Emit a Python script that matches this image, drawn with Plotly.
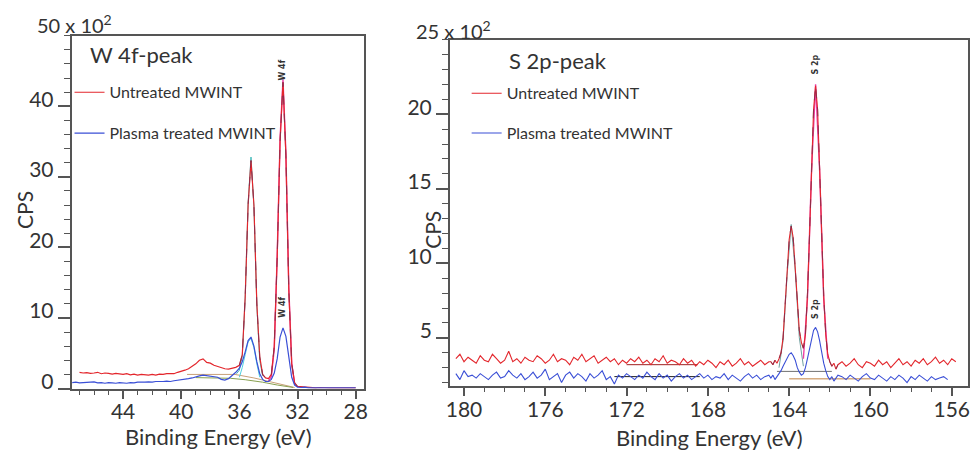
import plotly.graph_objects as go

W, H = 972, 453
FONT = "Lato"
TXT = "#333333"
AX = "#555555"
RED = "#e3262c"
BLUE = "#3a4fd6"

# ---------------- W 4f panel (CPS in units of 10^2) ----------------
w4f_energy = [
    47.5, 47.25, 47.0, 46.75, 46.5, 46.25, 46.0, 45.75, 45.5, 45.25,
    45.0, 44.75, 44.5, 44.25, 44.0, 43.75, 43.5, 43.25, 43.0, 42.75,
    42.5, 42.25, 42.0, 41.75, 41.5, 41.25, 41.0, 40.75, 40.5, 40.25,
    40.0, 39.75, 39.5, 39.25, 39.0, 38.75, 38.5, 38.25, 38.0, 37.75,
    37.5, 37.25, 37.0, 36.75, 36.5, 36.25,
    36.0, 35.8, 35.6, 35.4, 35.2, 35.0, 34.8, 34.6, 34.4, 34.2,
    34.0, 33.8, 33.6, 33.4, 33.2, 33.0, 32.8, 32.6, 32.4, 32.2, 32.0,
    31.75, 31.5, 31.25, 31.0, 30.75, 30.5, 30.25, 30.0, 29.75, 29.5,
    29.25, 29.0, 28.75, 28.5, 28.25, 28.0,
]
w4f_untreated = [
    None, None, 2.3, 2.2, 2.25, 2.15, 2.2, 2.3, 2.1, 2.2,
    2.15, 2.05, 2.15, 2.1, 2.0, 2.1, 1.95, 2.05, 1.9, 2.0,
    1.95, 1.9, 2.0, 1.9, 2.05, 2.0, 2.1, 2.15, 2.1, 2.3,
    2.4, 2.6, 2.8, 3.1, 3.5, 4.0, 4.2, 3.7, 3.6, 3.3,
    3.1, 2.9, 2.8, 2.75, 2.9, 3.0,
    3.3, 4.8, 13.0, 26.0, 32.3, 26.0, 12.0, 4.5, 2.0, 1.5,
    1.4, 2.0, 6.0, 18.5, 35.0, 43.4, 33.0, 14.0, 3.5, 0.8, 0.3,
    0.25, 0.2, 0.15, 0.2, 0.1, 0.15, 0.1, 0.15, 0.1, 0.1,
    0.15, 0.1, 0.1, 0.15, 0.1, 0.1,
]
w4f_plasma = [
    0.85, 0.9, 0.8, 0.85, 0.8, 0.9, 0.95, 0.8, 0.85, 0.75,
    0.85, 0.8, 0.75, 0.85, 0.8, 0.75, 0.85, 0.8, 0.9, 0.85,
    0.9, 0.95, 0.9, 1.0, 0.95, 1.0, 1.05, 1.0, 1.1, 1.15,
    1.2, 1.3, 1.4, 1.5, 1.7, 1.8, 1.9, 1.8, 1.8, 1.7,
    1.6, 1.3, 1.2, 1.4, 1.8, 2.3,
    2.9, 3.8, 5.2, 6.8, 7.3, 6.0, 3.8, 2.1, 1.3, 1.0,
    1.0, 1.3, 2.2, 4.2, 7.3, 8.6, 7.4, 4.3, 1.6, 0.5, 0.2,
    0.15, 0.2, 0.1, 0.15, 0.1, 0.1, 0.15, 0.1, 0.1, 0.1,
    0.15, 0.1, 0.1, 0.1, 0.1, 0.1,
]
# fitted components / backgrounds (W 4f)
w4f_fit1_e = [36.2, 36.0, 35.8, 35.6, 35.4, 35.2, 35.0, 34.8, 34.6, 34.4]
w4f_fit1_y = [2.1, 2.6, 4.6, 12.8, 26.3, 32.8, 25.8, 11.8, 4.0, 1.8]
w4f_fit2_e = [34.0, 33.8, 33.6, 33.4, 33.2, 33.0, 32.8, 32.6, 32.4, 32.2]
w4f_fit2_y = [1.1, 1.7, 5.6, 18.8, 35.4, 43.8, 33.4, 14.3, 3.6, 0.7]
w4f_fit3_e = [36.0, 35.8, 35.6, 35.4, 35.2, 35.0, 34.8, 34.6]
w4f_fit3_y = [1.6, 3.0, 4.8, 6.6, 7.1, 5.8, 3.5, 1.6]
w4f_bgu_e = [39.6, 36.3, 35.0, 34.0, 33.0, 32.2]
w4f_bgu_y = [2.0, 2.0, 1.5, 1.0, 0.5, 0.15]
w4f_bgp_e = [39.0, 36.6, 35.6, 34.4, 33.4, 32.3]
w4f_bgp_y = [1.55, 1.45, 1.25, 0.9, 0.5, 0.15]

# ---------------- S 2p panel (CPS in units of 10^2) ----------------
s2p_energy = [
    180.4, 180.2, 180.0, 179.8, 179.6, 179.4, 179.2, 179.0, 178.8, 178.6,
    178.4, 178.2, 178.0, 177.8, 177.6, 177.4, 177.2, 177.0, 176.8, 176.6,
    176.4, 176.2, 176.0, 175.8, 175.6, 175.4, 175.2, 175.0, 174.8, 174.6,
    174.4, 174.2, 174.0, 173.8, 173.6, 173.4, 173.2, 173.0, 172.8, 172.6,
    172.4, 172.2, 172.0, 171.8, 171.6, 171.4, 171.2, 171.0, 170.8, 170.6,
    170.4, 170.2, 170.0, 169.8, 169.6, 169.4, 169.2, 169.0, 168.8, 168.6,
    168.4, 168.2, 168.0, 167.8, 167.6, 167.4, 167.2, 167.0, 166.8, 166.6,
    166.4, 166.2, 166.0, 165.8, 165.6, 165.4, 165.2, 165.0,
    164.9, 164.8, 164.7, 164.6, 164.5, 164.4, 164.3, 164.2, 164.1, 164.0,
    163.9, 163.8, 163.7, 163.6, 163.5, 163.4, 163.3, 163.2, 163.1, 163.0,
    162.9, 162.8, 162.7, 162.6, 162.5, 162.4, 162.3, 162.2, 162.1, 162.0,
    161.9, 161.8, 161.7, 161.6,
    161.4, 161.2, 161.0, 160.8, 160.6, 160.4, 160.2, 160.0, 159.8, 159.6,
    159.4, 159.2, 159.0, 158.8, 158.6, 158.4, 158.2, 158.0, 157.8, 157.6,
    157.4, 157.2, 157.0, 156.8, 156.6, 156.4, 156.2, 156.0, 155.8,
]
s2p_untreated = [
    3.6, 3.9, 3.4, 3.7, 3.5, 3.3, 3.8, 3.5, 3.4, 3.9,
    3.6, 3.3, 3.5, 4.1, 3.4, 3.6, 3.3, 3.7, 3.5, 3.4,
    3.8, 3.6, 3.3, 3.5, 3.9, 3.4, 3.6, 3.5, 3.2, 3.7,
    3.5, 3.9, 3.4, 3.6, 3.8, 3.3, 3.5, 3.7, 3.4, 3.6,
    3.2, 3.5, 3.3, 3.6, 3.4, 3.7, 3.3, 3.5, 3.2, 3.6,
    3.4, 3.8, 3.3, 3.5, 3.4, 3.2, 3.6, 3.3, 3.5, 3.1,
    3.4, 3.2, 3.5, 3.3, 3.0, 3.4, 3.2, 3.5, 3.1, 3.3,
    3.6, 3.2, 3.4, 3.1, 3.3, 3.5, 3.2, 3.4,
    3.4, 3.2, 3.5, 3.3, 3.6, 4.0, 5.0, 6.9, 9.4, 11.6,
    12.5, 11.7, 9.6, 7.1, 5.5, 4.7, 4.3, 5.2, 7.9, 11.8,
    16.4, 20.3, 21.9, 20.3, 16.3, 11.6, 7.8, 5.2, 3.9, 3.4,
    3.1, 3.3, 2.9, 3.2,
    3.4, 3.1, 3.3, 3.6, 3.2, 3.0, 3.4, 3.3, 3.1, 3.5,
    3.2, 3.4, 3.0, 3.3, 3.6, 3.2, 3.4, 3.1, 3.5, 3.3,
    3.6, 3.2, 3.4, 3.7, 3.3, 3.5, 3.2, 3.6, 3.4,
]
s2p_plasma = [
    2.6, 2.2, 2.8, 2.4, 2.5, 2.3, 2.6, 2.4, 2.2, 2.5,
    2.7, 2.3, 2.4, 2.8, 2.5, 2.3, 2.6, 2.2, 2.4, 2.7,
    2.3, 2.5, 2.9, 2.2, 2.4, 2.6, 2.0, 2.5, 2.7, 2.3,
    2.6, 2.4, 2.1, 2.6, 2.3, 2.5, 2.8, 2.2, 2.4, 1.9,
    2.5, 2.3, 2.6, 2.4, 2.2, 2.5, 2.3, 2.7, 2.4, 2.2,
    2.6, 2.3, 2.5, 2.1, 2.4, 2.6, 2.3, 2.5, 2.2, 2.4,
    2.6, 2.3, 2.5, 2.2, 2.4, 2.3, 2.6, 2.2, 2.5, 2.3,
    2.1, 2.4, 2.6, 2.3, 2.5, 2.2, 2.4, 2.5,
    2.3, 2.5, 2.2, 2.4, 2.6, 2.8, 3.1, 3.4, 3.7, 3.9,
    4.0, 3.8, 3.5, 3.0, 2.7, 2.5, 2.6, 3.0, 3.6, 4.3,
    5.0, 5.5, 5.7, 5.4, 4.8, 4.0, 3.3, 2.8, 2.4, 2.2,
    2.4, 2.1, 2.3, 2.5,
    2.4, 2.2, 2.5, 2.3, 2.1, 2.4, 2.6, 2.3, 2.2, 2.5,
    2.3, 2.1, 2.4, 2.2, 2.5, 2.3, 2.0, 2.4, 2.2, 2.5,
    2.3, 2.1, 2.4, 2.2, 2.3, 2.4, 2.2, None, None,
]
# fitted components / backgrounds (S 2p)
s2p_fit1_e = [164.5, 164.3, 164.1, 163.9, 163.7, 163.5, 163.3]
s2p_fit1_y = [3.0, 4.8, 9.2, 12.6, 9.5, 5.0, 3.1]
s2p_fit2_e = [163.3, 163.1, 162.9, 162.7, 162.5, 162.3, 162.1]
s2p_fit2_y = [3.6, 7.6, 16.2, 22.0, 16.2, 7.6, 3.6]
s2p_bgu_e = [172.0, 168.5]
s2p_bgu_y = [3.2, 3.2]
s2p_bgp_e = [172.6, 168.4]
s2p_bgp_y = [2.4, 2.4]
s2p_bgfit_e = [164.6, 161.9]
s2p_bgfit_y = [2.75, 2.75]
s2p_bgfit2_e = [164.0, 160.0]
s2p_bgfit2_y = [2.25, 2.25]


def fx(px):
    return px / W


def fy(py):
    return 1 - py / H


fig = go.Figure()


def line(x, y, color, xa, ya, width=1.0, dash="solid", name=None, legend=None, group=None, show=False):
    fig.add_trace(go.Scatter(
        x=x, y=y, mode="lines", xaxis=xa, yaxis=ya,
        line=dict(color=color, width=width, dash=dash),
        name=name, showlegend=show, legend=legend, legendgroup=group,
        connectgaps=False, hoverinfo="skip",
    ))


# ---- left panel traces ----
line(w4f_bgu_e, w4f_bgu_y, "#c8a078", "x", "y")
line(w4f_bgp_e, w4f_bgp_y, "#88a050", "x", "y")
line(w4f_fit3_e, w4f_fit3_y, "#50d0e0", "x", "y")
line(w4f_fit1_e, w4f_fit1_y, "#40b8b8", "x", "y")
line(w4f_fit2_e, w4f_fit2_y, "#ee3fa8", "x", "y", width=1.4)
line(w4f_energy, w4f_untreated, RED, "x", "y", width=1.2, name="Untreated MWINT",
     legend="legend", group="u", show=True)
line(w4f_energy, w4f_plasma, BLUE, "x", "y", width=1.2, name="Plasma treated MWINT",
     legend="legend", group="p", show=True)
line(w4f_energy[46:67], w4f_untreated[46:67], "#7a3050", "x", "y", width=0.8, dash="dash")

# ---- right panel traces ----
line(s2p_bgu_e, s2p_bgu_y, "#a02020", "x2", "y2")
line(s2p_bgp_e, s2p_bgp_y, "#202020", "x2", "y2")
line(s2p_bgfit_e, s2p_bgfit_y, "#707070", "x2", "y2")
line(s2p_bgfit2_e, s2p_bgfit2_y, "#c08040", "x2", "y2")
line(s2p_fit1_e, s2p_fit1_y, "#70a0a0", "x2", "y2")
line(s2p_fit2_e, s2p_fit2_y, "#ee3fa8", "x2", "y2", width=1.4)
line(s2p_energy, s2p_untreated, RED, "x2", "y2", width=1.1, name="Untreated MWINT",
     legend="legend2", group="u2", show=True)
line(s2p_energy, s2p_plasma, BLUE, "x2", "y2", width=1.1, name="Plasma treated MWINT",
     legend="legend2", group="p2", show=True)
line(s2p_energy[78:112], s2p_untreated[78:112], "#7a3050", "x2", "y2", width=0.8, dash="dash")

tickfont = dict(family=FONT, size=21, color=TXT)
common_x = dict(showline=True, linecolor=AX, linewidth=1.5, mirror=True, showgrid=False,
                zeroline=False, ticks="outside", ticklen=9, tickwidth=1.5, tickcolor=AX,
                tickfont=tickfont, ticklabelstandoff=-5)
common_y = dict(showline=True, linecolor=AX, linewidth=1.5, mirror=True, showgrid=False,
                zeroline=False, ticks="outside", ticklen=12, tickwidth=1.5, tickcolor=AX,
                tickfont=tickfont, ticklabelshift=-7, ticklabelstandoff=0)

fig.update_layout(
    width=W, height=H,
    margin=dict(l=0, r=0, t=0, b=0),
    paper_bgcolor="white", plot_bgcolor="white",
    font=dict(family=FONT, color=TXT),
    xaxis=dict(domain=[fx(68), fx(363)], range=[47.55, 27.4], anchor="y",
               tickmode="array", tickvals=[44, 40, 36, 32, 28],
               minor=dict(tickmode="linear", tick0=0, dtick=1, ticks="outside", ticklen=5,
                          tickwidth=1.2, tickcolor=AX),
               **common_x),
    yaxis=dict(domain=[fy(392), fy(36)], range=[0, 50], anchor="x",
               tickmode="array", tickvals=[0, 10, 20, 30, 40],
               minor=dict(tickmode="linear", tick0=0, dtick=2, ticks="outside", ticklen=6,
                          tickwidth=1.2, tickcolor=AX),
               **common_y),
    xaxis2=dict(domain=[fx(449), fx(971)], range=[180.7, 155.2], anchor="y2",
                tickmode="array", tickvals=[180, 176, 172, 168, 164, 160, 156],
                minor=dict(tickmode="linear", tick0=0, dtick=1, ticks="outside", ticklen=5,
                           tickwidth=1.2, tickcolor=AX),
                **common_x),
    yaxis2=dict(domain=[fy(389), fy(40)], range=[1.8, 25], anchor="x2",
                tickmode="array", tickvals=[5, 10, 15, 20],
                minor=dict(tickmode="linear", tick0=0, dtick=1, ticks="outside", ticklen=6,
                           tickwidth=1.2, tickcolor=AX),
                **common_y),
    legend=dict(x=fx(66), y=fy(76), xanchor="left", yanchor="top",
                font=dict(family=FONT, size=16, color=TXT), bgcolor="rgba(0,0,0,0)",
                tracegroupgap=17, itemwidth=30),
    legend2=dict(x=fx(466), y=fy(77), xanchor="left", yanchor="top",
                 font=dict(family=FONT, size=16, color=TXT), bgcolor="rgba(0,0,0,0)",
                 tracegroupgap=16, itemwidth=30),
)

ann = []


def text(t, x, y, size, xanchor="left", angle=0, xref="paper", yref="paper", family=FONT):
    ann.append(dict(text=t, x=x, y=y, xref=xref, yref=yref, xanchor=xanchor,
                    yanchor="middle", showarrow=False, textangle=angle,
                    font=dict(family=family, size=size, color=TXT)))


text("50 x 10<sup>2</sup>", fx(31), fy(24), 20)
text("25 x 10<sup>2</sup>", fx(413), fy(30), 20)
text("W 4f-peak", fx(85), fy(55), 22)
text("S 2p-peak", fx(507), fy(61), 22)
text("CPS", fx(20), fy(212), 21, xanchor="center", angle=-90)
text("CPS", fx(432), fy(232), 21, xanchor="center", angle=-90)
text("Binding Energy (eV)", fx(216), fy(440), 22, xanchor="center")
text("Binding Energy (eV)", fx(711), fy(441), 22, xanchor="center")
# peak labels (data coordinates)
text("<b>W 4f</b>", 33.0, 45.2, 8, xanchor="center", angle=-90, xref="x", yref="y", family="DejaVu Sans")
text("<b>W 4f</b>", 33.0, 11.6, 8, xanchor="center", angle=-90, xref="x", yref="y", family="DejaVu Sans")
text("<b>S 2p</b>", 162.7, 23.3, 8, xanchor="center", angle=-90, xref="x2", yref="y2", family="DejaVu Sans")
text("<b>S 2p</b>", 162.7, 6.9, 8, xanchor="center", angle=-90, xref="x2", yref="y2", family="DejaVu Sans")
fig.update_layout(annotations=ann)

fig.write_html("out.html")
